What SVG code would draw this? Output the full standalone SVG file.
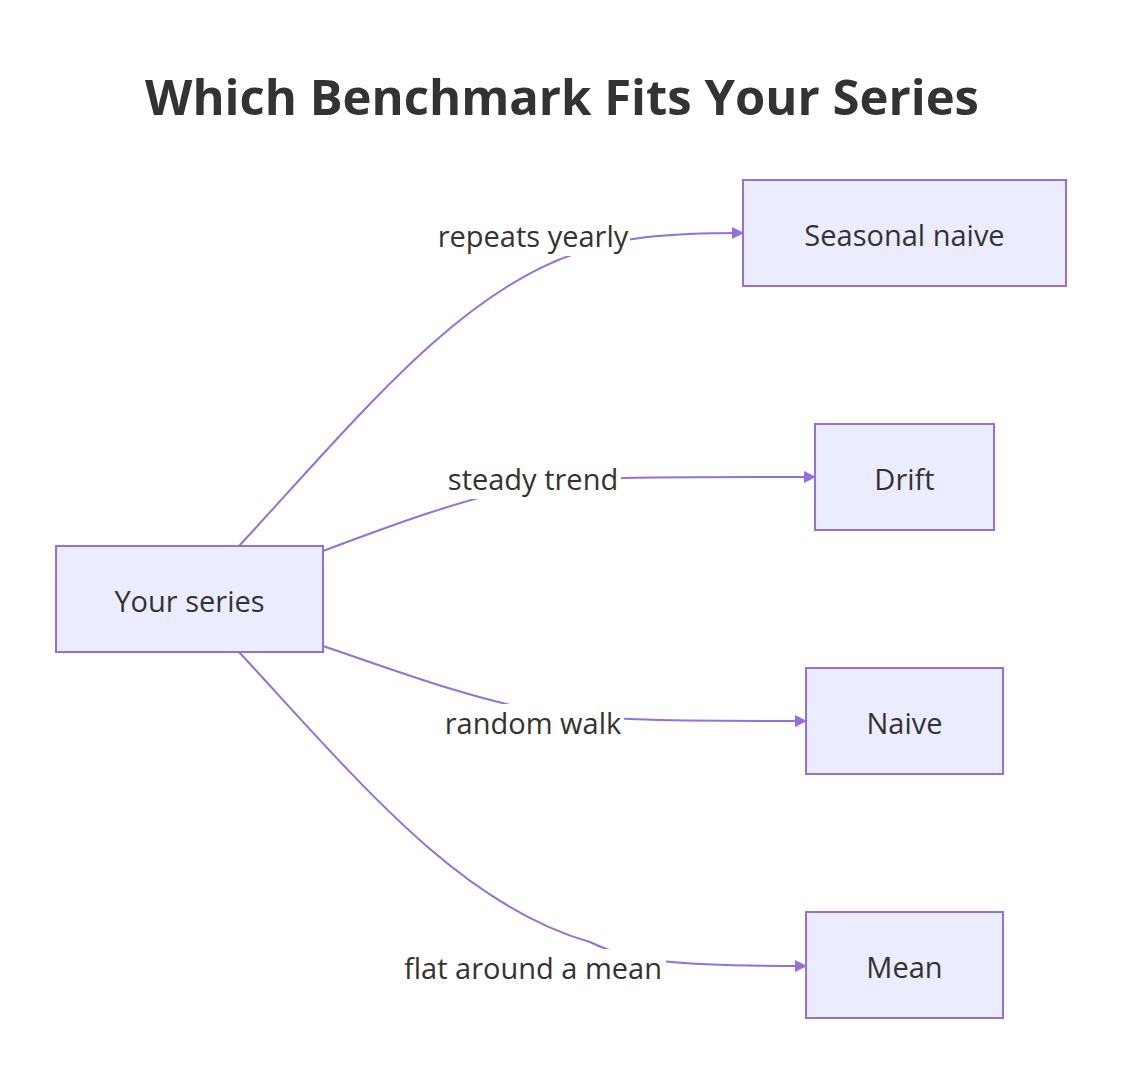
<svg xmlns="http://www.w3.org/2000/svg" width="1138" height="1090" viewBox="0 0 1138 1090">
<style>
.n rect{fill:#ECECFF;stroke:#9370DB;stroke-width:2}
text{font-family:"Open Sans","DejaVu Sans",sans-serif;fill:#333;font-size:29px;text-anchor:middle;dominant-baseline:central}
text.t{font-size:49px;font-weight:bold}
.e path{fill:none;stroke:#9370DB;stroke-width:2;marker-end:url(#a)}
.l rect{fill:#fff}
</style>
<defs><marker id="a" viewBox="0 0 12 12" refX="11" refY="6" markerWidth="12" markerHeight="12" markerUnits="userSpaceOnUse" orient="auto"><path d="M0,0L12,6L0,12z" fill="#9370DB"/></marker></defs>
<rect width="1138" height="1090" fill="#fff"/>
<text class="t" x="562" y="96">Which Benchmark Fits Your Series</text>
<g class="e">
<path d="M239,546 C360,415 460,290 580,252 C620,238 660,233 743,233"/>
<path d="M323,551 C400,522 460,500 533,485 C600,476 650,477 815,477"/>
<path d="M323,646 C400,672 460,695 533,710 C600,720 650,721 806,721"/>
<path d="M239,652 C360,783 460,905 590,942 C630,962 680,966 806,966"/>
</g>
<g class="l">
<rect x="438" y="218" width="192" height="38"/><text x="533" y="235">repeats yearly</text>
<rect x="447" y="461" width="174" height="38"/><text x="533" y="478">steady trend</text>
<rect x="444" y="704" width="180" height="38"/><text x="533" y="722">random walk</text>
<rect x="402" y="949" width="264" height="38"/><text x="533" y="967">flat around a mean</text>
</g>
<g id="series" class="n"><rect x="56" y="546" width="267" height="106"/><text x="189.5" y="600">Your series</text></g>
<g id="seasonal" class="n"><rect x="743" y="180" width="323" height="106"/><text x="904.5" y="234">Seasonal naive</text></g>
<g id="drift" class="n"><rect x="815" y="424" width="179" height="106"/><text x="904.5" y="478">Drift</text></g>
<g id="naive" class="n"><rect x="806" y="668" width="197" height="106"/><text x="904.5" y="722">Naive</text></g>
<g id="mean" class="n"><rect x="806" y="912" width="197" height="106"/><text x="904.5" y="966">Mean</text></g>
</svg>
